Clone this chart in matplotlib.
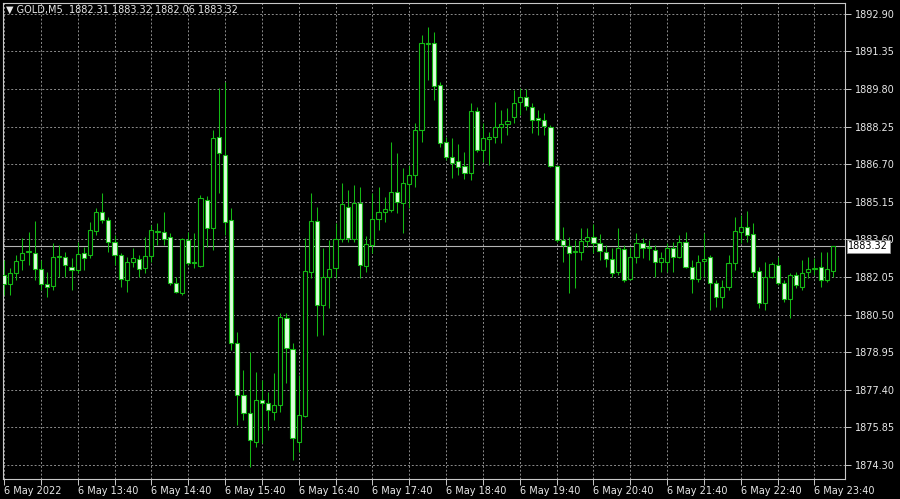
import matplotlib
matplotlib.use("Agg")
import matplotlib.pyplot as plt
from matplotlib.transforms import blended_transform_factory

symbol = "GOLD,M5"

opens = [1882.14, 1881.77, 1882.22, 1882.76, 1883.09, 1883.04, 1882.38, 1881.77, 1881.68, 1882.88,
         1882.88, 1882.47, 1882.34, 1883.04, 1882.96, 1883.95, 1884.74, 1884.41, 1883.50, 1882.96,
         1881.93, 1882.67, 1882.80, 1882.43, 1882.92, 1883.91, 1883.91, 1883.70, 1881.81, 1881.40,
         1883.58, 1882.67, 1882.51, 1885.23, 1884.08, 1887.83, 1887.09, 1884.41, 1879.33, 1877.19,
         1876.45, 1875.25, 1876.98, 1876.86, 1876.49, 1876.78, 1880.36, 1879.09, 1875.25, 1876.32,
         1882.26, 1884.36, 1880.90, 1882.05, 1882.43, 1883.62, 1884.94, 1883.62, 1885.11, 1882.51,
         1883.37, 1884.45, 1884.74, 1884.82, 1885.56, 1885.11, 1885.89, 1886.26, 1888.12, 1891.66,
         1891.70, 1889.97, 1887.62, 1887.00, 1886.84, 1886.63, 1886.34, 1888.90, 1887.29, 1887.75,
         1887.83, 1888.24, 1888.36, 1888.65, 1889.27, 1889.48, 1889.07, 1888.61, 1888.53, 1888.24,
         1886.63, 1883.58, 1883.33, 1883.09, 1883.09, 1883.54, 1883.70, 1883.46, 1883.09, 1882.80,
         1882.26, 1883.21, 1881.97, 1882.88, 1883.46, 1883.25, 1883.17, 1882.67, 1882.67, 1883.25,
         1882.88, 1883.50, 1882.47, 1881.97, 1882.71, 1882.88, 1881.81, 1881.23, 1881.64, 1882.63,
         1883.91, 1884.12, 1883.83, 1882.30, 1880.98, 1882.05, 1882.55, 1881.81, 1881.15, 1882.14,
         1881.64, 1882.26, 1882.38, 1882.47, 1881.93, 1882.31]

highs = [1882.76, 1882.43, 1882.96, 1883.66, 1883.91, 1884.36, 1882.76, 1882.26, 1883.46, 1883.37,
         1883.09, 1882.84, 1883.50, 1883.29, 1884.32, 1884.90, 1885.52, 1884.53, 1883.79, 1883.04,
         1882.88, 1883.25, 1882.96, 1883.70, 1884.20, 1884.28, 1884.74, 1883.87, 1882.05, 1883.66,
         1883.91, 1883.87, 1885.44, 1885.40, 1888.12, 1889.85, 1890.10, 1884.90, 1879.79, 1878.22,
         1878.96, 1878.14, 1877.81, 1877.31, 1878.10, 1880.57, 1880.57, 1879.33, 1878.01, 1883.66,
         1885.52, 1884.94, 1883.25, 1883.58, 1884.28, 1885.93, 1885.64, 1885.85, 1885.77, 1883.75,
         1885.52, 1885.77, 1885.35, 1887.62, 1887.17, 1886.55, 1886.67, 1888.40, 1892.03, 1892.36,
         1892.16, 1890.10, 1887.83, 1887.79, 1887.54, 1887.21, 1889.23, 1889.07, 1888.40, 1888.03,
         1889.27, 1888.94, 1889.02, 1889.77, 1889.85, 1889.81, 1889.23, 1888.94, 1888.82, 1888.32,
         1886.67, 1884.12, 1883.70, 1883.58, 1884.08, 1884.08, 1884.24, 1883.83, 1883.37, 1883.25,
         1884.08, 1883.37, 1883.29, 1883.87, 1883.66, 1883.58, 1883.37, 1883.09, 1883.46, 1883.50,
         1883.79, 1883.91, 1882.76, 1882.96, 1883.87, 1882.96, 1881.93, 1881.93, 1882.96, 1884.53,
         1884.61, 1884.78, 1884.28, 1882.47, 1882.67, 1882.67, 1882.88, 1881.93, 1882.22, 1882.26,
         1882.76, 1882.88, 1882.84, 1883.09, 1883.09, 1883.32]

lows = [1881.31, 1881.31, 1881.93, 1882.34, 1882.55, 1881.93, 1881.52, 1881.23, 1881.52, 1882.05,
        1882.05, 1881.52, 1882.22, 1882.34, 1882.84, 1883.79, 1884.28, 1883.09, 1882.55, 1881.64,
        1881.44, 1882.47, 1882.05, 1882.22, 1882.67, 1883.37, 1883.37, 1881.72, 1881.40, 1881.31,
        1882.55, 1882.43, 1882.47, 1883.29, 1883.17, 1885.52, 1883.79, 1879.04, 1875.95, 1876.16,
        1874.22, 1875.04, 1875.21, 1875.75, 1876.16, 1876.49, 1877.68, 1874.51, 1874.84, 1876.28,
        1882.01, 1879.62, 1879.66, 1880.78, 1882.01, 1883.50, 1883.50, 1883.50, 1882.01, 1882.26,
        1883.04, 1883.99, 1884.32, 1884.74, 1884.69, 1883.87, 1884.90, 1885.77, 1887.62, 1890.18,
        1889.35, 1887.42, 1886.88, 1886.14, 1886.26, 1886.10, 1886.05, 1887.21, 1886.80, 1886.67,
        1887.58, 1887.58, 1887.91, 1888.40, 1888.73, 1888.94, 1887.99, 1887.91, 1887.91, 1886.59,
        1883.50, 1882.67, 1881.40, 1881.60, 1882.76, 1883.29, 1883.04, 1882.76, 1882.47, 1882.05,
        1882.14, 1881.85, 1881.93, 1882.63, 1882.84, 1882.76, 1882.05, 1882.26, 1882.26, 1882.26,
        1882.84, 1882.43, 1881.40, 1881.85, 1882.05, 1880.69, 1880.82, 1880.78, 1881.52, 1882.34,
        1883.46, 1883.50, 1882.05, 1880.78, 1880.69, 1882.01, 1881.72, 1881.02, 1880.36, 1881.60,
        1881.52, 1882.01, 1882.14, 1881.64, 1881.85, 1882.06]

closes = [1881.77, 1882.22, 1882.71, 1883.04, 1883.13, 1882.38, 1881.77, 1881.64, 1882.88, 1882.92,
          1882.55, 1882.34, 1883.00, 1882.84, 1883.99, 1884.74, 1884.41, 1883.50, 1882.96, 1881.97,
          1882.67, 1882.84, 1882.38, 1882.92, 1883.99, 1883.95, 1883.62, 1881.81, 1881.44, 1883.62,
          1882.63, 1882.63, 1885.31, 1884.08, 1887.79, 1887.17, 1884.32, 1879.33, 1877.19, 1876.45,
          1875.33, 1876.98, 1876.86, 1876.57, 1876.78, 1880.40, 1879.13, 1875.42, 1876.36, 1882.30,
          1884.36, 1880.90, 1882.05, 1882.38, 1883.62, 1885.06, 1883.66, 1885.11, 1882.55, 1883.42,
          1884.45, 1884.74, 1884.86, 1885.56, 1885.15, 1885.93, 1886.26, 1888.12, 1891.70, 1891.70,
          1889.93, 1887.58, 1887.00, 1886.76, 1886.59, 1886.34, 1888.90, 1887.29, 1887.79, 1887.83,
          1888.24, 1888.36, 1888.49, 1889.23, 1889.48, 1889.11, 1888.53, 1888.53, 1888.28, 1886.63,
          1883.58, 1883.37, 1883.04, 1883.13, 1883.54, 1883.70, 1883.46, 1883.13, 1882.80, 1882.22,
          1883.25, 1881.93, 1882.88, 1883.46, 1883.25, 1883.29, 1882.67, 1882.84, 1883.25, 1882.88,
          1883.50, 1882.47, 1881.97, 1882.67, 1882.80, 1881.81, 1881.23, 1881.64, 1882.63, 1883.95,
          1884.12, 1883.79, 1882.26, 1880.98, 1882.05, 1882.59, 1881.81, 1881.15, 1882.14, 1881.72,
          1882.22, 1882.38, 1882.43, 1881.93, 1882.38, 1883.32]

price_ticks = [1874.30, 1875.85, 1877.40, 1878.95, 1880.50, 1882.05, 1883.60,
               1885.15, 1886.70, 1888.25, 1889.80, 1891.35, 1892.90]

time_labels = ["6 May 2022", "6 May 13:40", "6 May 14:40", "6 May 15:40", "6 May 16:40",
               "6 May 17:40", "6 May 18:40", "6 May 19:40", "6 May 20:40", "6 May 21:40",
               "6 May 22:40", "6 May 23:40"]

green = "#14b914"
bear_fill = "#dcffdc"
grid_c = "#8c8c8c"
text_c = "#e8e8e8"
frame_c = "#c8c8c8"

fig = plt.figure(figsize=(9, 4.99), dpi=100, facecolor="black")
ax = fig.add_axes([3 / 900, 20 / 499, 842 / 900, 476 / 499])
ax.set_facecolor("black")

n = len(opens)
idx = list(range(n))

# wicks first, then bodies over them
ax.vlines(idx, lows, highs, color=green, linewidth=0.75, zorder=2)
bottoms = [min(o, c) for o, c in zip(opens, closes)]
heights = [abs(c - o) for o, c in zip(opens, closes)]
faces = [bear_fill if c < o else "black" for o, c in zip(opens, closes)]
ax.bar(idx, heights, bottom=bottoms, width=0.68, color=faces,
       edgecolor=green, linewidth=0.8, zorder=3)

ax.set_xlim(-0.16, 136.97)
ax.set_ylim(1873.72, 1893.35)

# x ticks every half hour, labels every hour
xt = list(range(0, n, 6))
xl = []
for k in range(len(xt)):
    xl.append(time_labels[k // 2] if k % 2 == 0 else "")
ax.set_xticks(xt)
ax.set_xticklabels(xl, ha="left")

ax.yaxis.tick_right()
ax.set_yticks(price_ticks)
ax.set_yticklabels([f"{v:.2f}" for v in price_ticks])

ax.tick_params(axis="both", colors=frame_c, labelcolor=text_c, labelsize=7,
               length=4, width=0.7, direction="out")
ax.tick_params(axis="x", pad=1)
ax.tick_params(axis="y", pad=3)

ax.grid(True, color=grid_c, linestyle=(0, (2, 2)), linewidth=0.7, zorder=0)
ax.set_axisbelow(True)
for s in ax.spines.values():
    s.set_color(frame_c)
    s.set_linewidth(0.8)

# current price line and label
last = closes[-1]
ax.axhline(last, color="#b4b4b4", linewidth=0.8, zorder=1)
tr = blended_transform_factory(ax.transAxes, ax.transData)
ax.text(1.004, last, f"{last:.2f}", transform=tr, ha="left", va="center",
        fontsize=7, color="black", clip_on=False, zorder=10,
        bbox=dict(facecolor="white", edgecolor="#909090", pad=1.2, linewidth=0.6))

header = f"\u25bc {symbol}  {opens[-1]:.2f} {highs[-1]:.2f} {lows[-1]:.2f} {closes[-1]:.2f}"
fig.text(6 / 900, 1 - 10 / 499, header, color=text_c, fontsize=7, va="center", ha="left")

fig.savefig("out.png", dpi=100, facecolor="black")
